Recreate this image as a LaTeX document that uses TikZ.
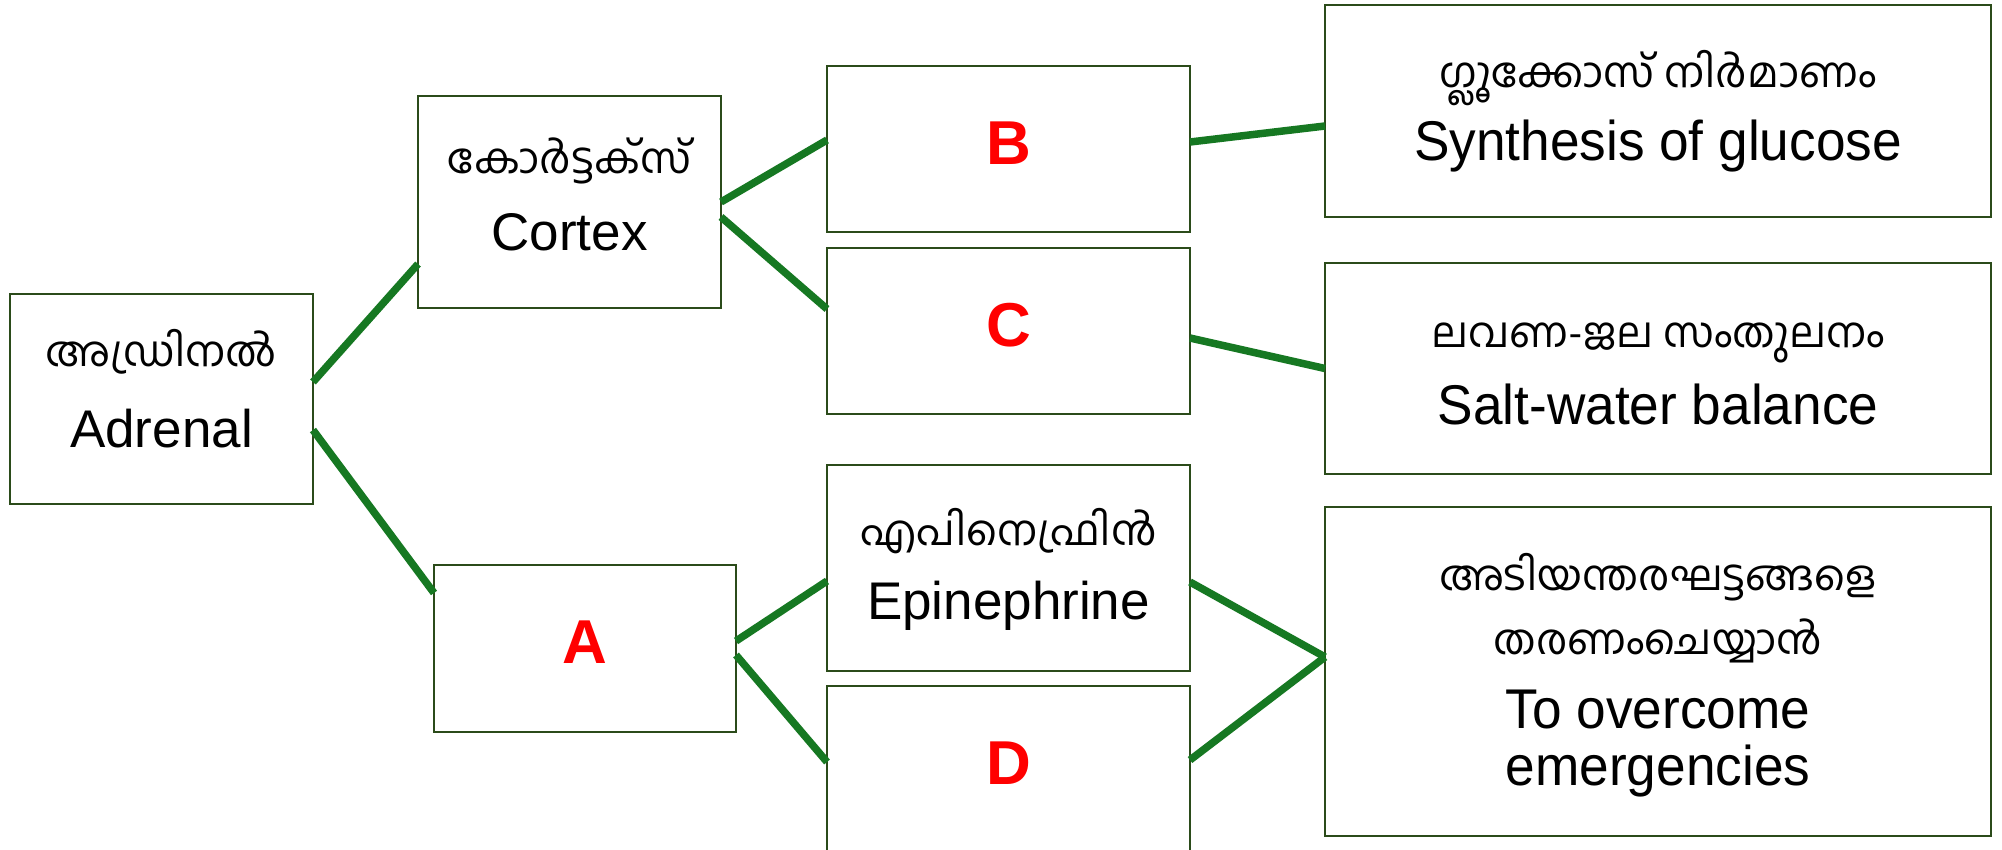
\documentclass[tikz,border=0pt]{standalone}
\usepackage{fontspec}
\setmainfont{Liberation Sans}
\newfontfamily\malfont[Script=Malayalam]{Hind Kochi}
\newfontfamily\narrowfont[FakeStretch=0.95]{Liberation Sans}
\definecolor{lnkgreen}{HTML}{167822}
\definecolor{boxgreen}{HTML}{2B4B1A}
\definecolor{lblred}{HTML}{FF0000}
\tikzset{
  box/.style={draw=boxgreen, line width=2.5pt, fill=white, inner sep=0pt, outer sep=0pt},
  link/.style={draw=lnkgreen, line width=7.5pt},
  mal/.style={anchor=base, inner sep=0pt, font=\malfont\fontsize{42}{48}\selectfont},
  engl/.style={anchor=base, inner sep=0pt, font=\fontsize{53}{60}\selectfont},
  engr/.style={anchor=base, inner sep=0pt, font=\narrowfont\fontsize{56}{62}\selectfont},
  letter/.style={inner sep=0pt, text=lblred, font=\bfseries\fontsize{62}{70}\selectfont}
}
\begin{document}
\begin{tikzpicture}[x=1pt,y=-1pt]
\useasboundingbox[fill=white] (0,0) rectangle (2002,849);
% boxes
\node[box, minimum width=303pt, minimum height=210pt] (adr) at (161.5,399) {};
\node[box, minimum width=303pt, minimum height=212pt] (cor) at (569.5,202) {};
\node[box, minimum width=363pt, minimum height=166pt] (bb) at (1008.5,149) {};
\node[box, minimum width=363pt, minimum height=166pt] (cc) at (1008.5,331) {};
\node[box, minimum width=302pt, minimum height=167pt] (aa) at (585,648.5) {};
\node[box, minimum width=363pt, minimum height=206pt] (epi) at (1008.5,568) {};
\node[box, minimum width=363pt, minimum height=166pt] (dd) at (1008.5,769) {};
\node[box, minimum width=666pt, minimum height=212pt] (glu) at (1658,111) {};
\node[box, minimum width=666pt, minimum height=211pt] (salt) at (1658,368.5) {};
\node[box, minimum width=666pt, minimum height=329pt] (emer) at (1658,671.5) {};
% texts
\node[mal] (adrM) at (161.5,366) {അഡ്രിനൽ};
\node[engl] (adrE) at (161.5,447) {Adrenal};
\node[mal] (corM) at (569.5,173) {കോർട്ടക്സ്};
\node[engl] (corE) at (569.5,250) {Cortex};
\node[mal] (epiM) at (1008.5,545) {എപിനെഫ്രിൻ};
\node[engl] (epiE) at (1008.5,619) {Epinephrine};
\node[mal] (gluM) at (1658,87) {ഗ്ലൂക്കോസ് നിർമാണം};
\node[engr] (gluE) at (1658,160) {Synthesis of glucose};
\node[mal] (saltM) at (1658,347) {ലവണ-ജല സംതുലനം};
\node[engr] (saltE) at (1658,424) {Salt-water balance};
\node[mal] (emerM1) at (1658,590) {അടിയന്തരഘട്ടങ്ങളെ};
\node[mal] (emerM2) at (1658,654) {തരണംചെയ്യാൻ};
\node[engr] (emerE1) at (1658,728) {To overcome};
\node[engr] (emerE2) at (1658,785) {emergencies};
\node[letter] (bL) at (1008.5,143) {B};
\node[letter] (cL) at (1008.5,325) {C};
\node[letter] (aL) at (585,642) {A};
\node[letter] (dL) at (1008.5,763) {D};
% connectors
\draw[link] ([yshift=17pt]adr.east) -- ([yshift=-62pt]cor.west);
\draw[link] ([yshift=-31pt]adr.east) -- ([yshift=55.5pt]aa.west);
\draw[link] (cor.east) -- ([yshift=9pt]bb.west);
\draw[link] ([yshift=-15pt]cor.east) -- ([yshift=22pt]cc.west);
\draw[link] ([yshift=7pt]bb.east) -- ([yshift=-15pt]glu.west);
\draw[link] ([yshift=-7pt]cc.east) -- (salt.west);
\draw[link] ([yshift=7.5pt]aa.east) -- ([yshift=-13pt]epi.west);
\draw[link] ([yshift=-6.5pt]aa.east) -- ([yshift=7pt]dd.west);
\draw[link] ([yshift=-14pt]epi.east) -- ([yshift=14.5pt]emer.west);
\draw[link] ([yshift=9pt]dd.east) -- ([yshift=14.5pt]emer.west);
\end{tikzpicture}
\end{document}
